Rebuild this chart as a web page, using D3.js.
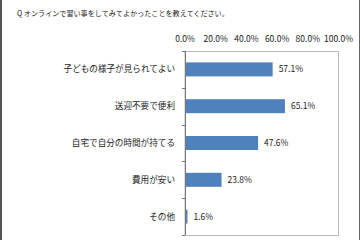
<!DOCTYPE html>
<html>
<head>
<meta charset="utf-8" />
<style>
body { margin:0; background:#fff; }
svg { display:block; font-family:"Noto Sans CJK JP", sans-serif; }
</style>
</head>
<body>
<svg id="chart" width="360" height="240"></svg>
<script src="https://cdnjs.cloudflare.com/ajax/libs/d3/7.8.5/d3.min.js"></script>
<script>
var title = "Q オンラインで習い事をしてみてよかったことを教えてください。";
var categories = ["子どもの様子が見られてよい", "送迎不要で便利", "自宅で自分の時間が持てる", "費用が安い", "その他"];
var values = [57.1, 65.1, 47.6, 23.8, 1.6];
var ticks = [0, 20, 40, 60, 80, 100];

var svg = d3.select("#chart");
var pLeft = 185, pRight = 338.5, pTop = 51, pBottom = 235;

// outer frame
svg.append("line").attr("x1",1).attr("x2",1).attr("y1",0).attr("y2",240)
	.attr("stroke","#555").attr("stroke-width",2);
svg.append("line").attr("x1",359.5).attr("x2",359.5).attr("y1",0).attr("y2",240)
	.attr("stroke","#666").attr("stroke-width",1);

svg.append("text").attr("x",17).attr("y",15.5).attr("font-size",7.1).attr("fill","#222").text(title);

var x = d3.scaleLinear().domain([0,100]).range([pLeft,pRight]);
var y = d3.scaleBand().domain(categories).range([pTop,pBottom]).paddingInner(0.62).paddingOuter(0.31);

// plot box
svg.append("rect").attr("x",pLeft).attr("y",pTop+0.5).attr("width",pRight-pLeft).attr("height",pBottom-pTop)
	.attr("fill","none").attr("stroke","#bbb").attr("stroke-width",1);

// tick labels above
svg.selectAll(".tl").data(ticks).enter().append("text")
	.attr("x",function(d){return x(d);}).attr("y",42)
	.attr("text-anchor","middle").attr("font-size",8.5).attr("fill","#222")
	.text(function(d){return d.toFixed(1)+"%";});

// bars
svg.selectAll(".bar").data(values).enter().append("rect")
	.attr("x",pLeft).attr("y",function(d,i){return y(categories[i]);})
	.attr("width",function(d){return x(d)-pLeft;}).attr("height",y.bandwidth())
	.attr("fill","#4f81bd");

// value labels
svg.selectAll(".vl").data(values).enter().append("text")
	.attr("x",function(d){return x(d)+6;})
	.attr("y",function(d,i){return y(categories[i])+y.bandwidth()/2;})
	.attr("dy","0.35em").attr("font-size",8.5).attr("fill","#222")
	.text(function(d){return d.toFixed(1)+"%";});

// category labels
svg.selectAll(".cl").data(categories).enter().append("text")
	.attr("x",175).attr("y",function(d){return y(d)+y.bandwidth()/2;})
	.attr("dy","0.35em").attr("text-anchor","end").attr("font-size",8.6).attr("fill","#222")
	.text(function(d){return d;});

// left axis with ticks between categories
var step = (pBottom-pTop)/categories.length;
svg.append("line").attr("x1",pLeft+0.5).attr("x2",pLeft+0.5).attr("y1",pTop).attr("y2",pBottom)
	.attr("stroke","#777");
svg.selectAll(".tk").data(d3.range(categories.length+1)).enter().append("line")
	.attr("x1",pLeft-3).attr("x2",pLeft)
	.attr("y1",function(i){return Math.round(pTop+i*step)+0.5;})
	.attr("y2",function(i){return Math.round(pTop+i*step)+0.5;})
	.attr("stroke","#777");
</script>
</body>
</html>
